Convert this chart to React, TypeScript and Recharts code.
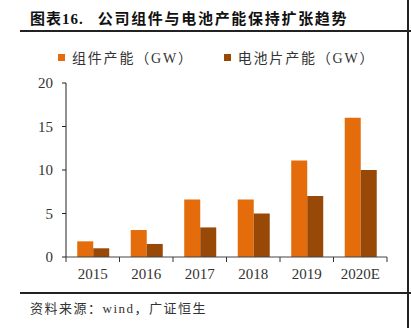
import { Bar, BarChart, XAxis, YAxis } from "recharts";

const years = ["2015", "2016", "2017", "2018", "2019", "2020E"];
const moduleCap = [1.8, 3.1, 6.6, 6.6, 11.1, 16];
const cellCap = [1.0, 1.5, 3.4, 5.0, 7.0, 10];
const yTicks = [0, 5, 10, 15, 20];

const seriesNames = ["组件产能（GW）", "电池片产能（GW）"];
const seriesColors = ["#E46C0A", "#984807"];

const W = 411;
const H = 328;
const PLOT_LEFT = 66;
const PLOT_RIGHT = 387;
const BAND = (PLOT_RIGHT - PLOT_LEFT) / years.length;

const serif = '"Liberation Serif", "Noto Sans CJK SC", serif';

const data = years.map((y, i) => ({
  year: y,
  module: moduleCap[i],
  cell: cellCap[i],
}));

function YearTick(props: any) {
  const { x, y, payload, index } = props;
  const half = BAND / 2;
  return (
    <g>
      <line x1={x - half} y1={y - 8} x2={x - half} y2={y - 3} stroke="#333" />
      {index === years.length - 1 && (
        <line x1={x + half} y1={y - 8} x2={x + half} y2={y - 3} stroke="#333" />
      )}
      <text
        x={x}
        y={y + 14}
        textAnchor="middle"
        fontSize={15}
        fontFamily={serif}
        fill="#333"
      >
        {payload.value}
      </text>
    </g>
  );
}

export default function App() {
  return (
    <div
      style={{
        position: "absolute",
        left: 0,
        top: 0,
        width: W,
        height: H,
        background: "#fff",
        fontFamily: serif,
      }}
    >
      <div
        style={{
          position: "absolute",
          left: 30,
          top: 7,
          fontSize: 15,
          fontWeight: 700,
          color: "#111",
          whiteSpace: "nowrap",
          display: "flex",
        }}
      >
        <span style={{ letterSpacing: 1 }}>图表16.</span>
        <span style={{ marginLeft: 14, letterSpacing: 1.7 }}>公司组件与电池产能保持扩张趋势</span>
      </div>
      <div style={{ position: "absolute", left: 20, top: 30, width: W - 20, height: 2, background: "#222" }} />
      <div style={{ position: "absolute", left: 407, top: 0, width: 2, height: H, background: "#222" }} />
      <div style={{ position: "absolute", left: 20, top: 292, width: W - 20, height: 2, background: "#222" }} />

      <div
        style={{
          position: "absolute",
          top: 47,
          left: 58,
          display: "flex",
          fontSize: 14,
          color: "#333",
          whiteSpace: "nowrap",
          letterSpacing: 1.8,
        }}
      >
        {seriesNames.map((n, i) => (
          <div key={n} style={{ display: "flex", alignItems: "center", marginRight: i === 0 ? 30 : 0 }}>
            <span style={{ width: 7, height: 7, background: seriesColors[i], marginRight: 7, display: "inline-block" }} />
            <span>{n}</span>
          </div>
        ))}
      </div>

      <div style={{ position: "absolute", left: 0, top: 0 }}>
        <BarChart
          width={W}
          height={H}
          data={data}
          margin={{ top: 83, right: W - PLOT_RIGHT, bottom: 41, left: 16 }}
          barCategoryGap="21%"
          barGap={0}
        >
          <XAxis
            dataKey="year"
            height={30}
            axisLine={{ stroke: "#444" }}
            tickLine={false}
            tick={<YearTick />}
            interval={0}
          />
          <YAxis
            width={50}
            domain={[0, 20]}
            ticks={yTicks}
            axisLine={{ stroke: "#222" }}
            tickLine={{ stroke: "#222" }}
            tickSize={4}
            tickMargin={9}
            tick={{ fontSize: 15, fontFamily: serif, fill: "#333" }}
          />
          <Bar dataKey="module" name={seriesNames[0]} fill={seriesColors[0]} isAnimationActive={false} />
          <Bar dataKey="cell" name={seriesNames[1]} fill={seriesColors[1]} isAnimationActive={false} />
        </BarChart>
      </div>

      <div
        style={{
          position: "absolute",
          left: 30,
          top: 298,
          fontSize: 13,
          color: "#333",
          whiteSpace: "nowrap",
          letterSpacing: 1.5,
        }}
      >
        资料来源：wind，广证恒生
      </div>
    </div>
  );
}
